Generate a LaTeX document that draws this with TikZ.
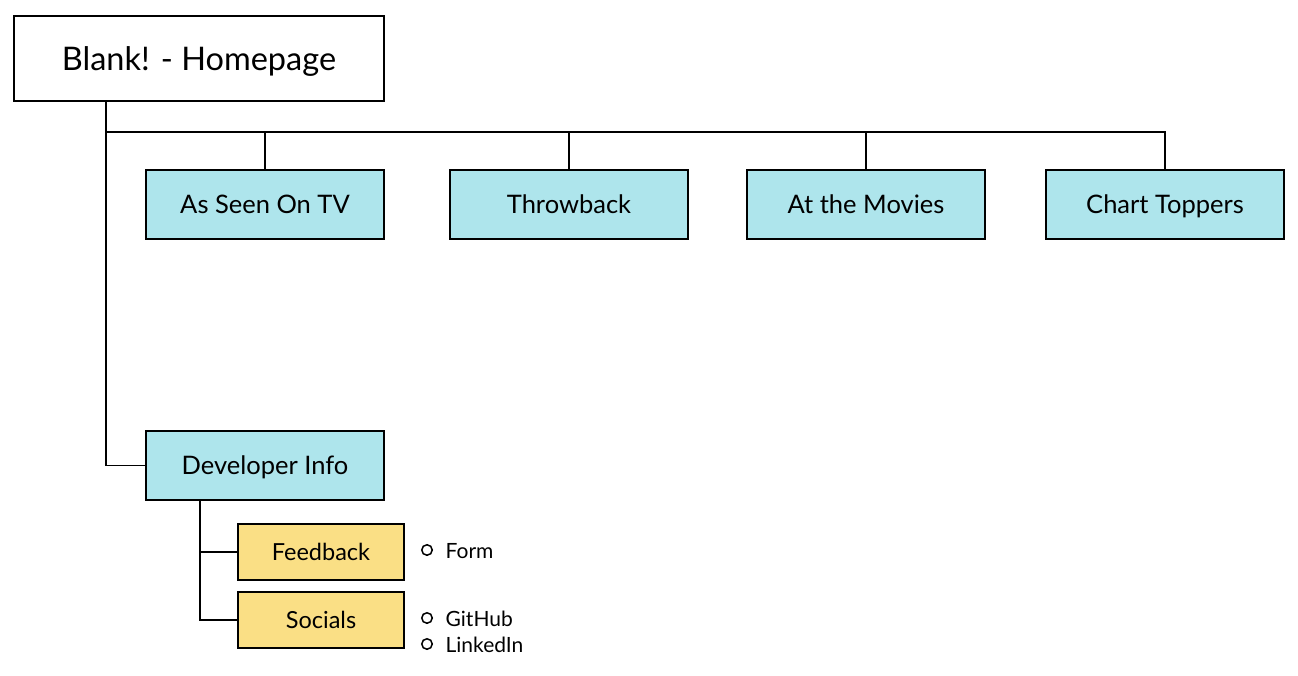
\documentclass[tikz,border=0pt]{standalone}
\usepackage{fontspec}
\setmainfont{Lato}
\definecolor{cyanbox}{HTML}{AEE5EC}
\definecolor{yelbox}{HTML}{FADF85}
\begin{document}
\begin{tikzpicture}[x=1pt,y=-1pt,line width=1.3pt,
  homebox/.style={draw,fill=white,minimum width=370pt,minimum height=85pt,inner sep=0pt,text height=23.4pt,text depth=0pt,font=\fontsize{32.5}{36}\selectfont},
  pagebox/.style={draw,fill=cyanbox,minimum width=238pt,minimum height=69pt,inner sep=0pt,text height=18.4pt,text depth=0pt,font=\fontsize{25.5}{29}\selectfont},
  subbox/.style={draw,fill=yelbox,minimum width=166pt,minimum height=56pt,inner sep=0pt,text height=16.9pt,text depth=0pt,font=\fontsize{23.5}{27}\selectfont},
  bullet/.style={draw,circle,line width=1.5pt,minimum size=10.5pt,inner sep=0pt},
  itemtext/.style={anchor=west,inner sep=0pt,text height=15.1pt,text depth=0pt,font=\fontsize{21}{25}\selectfont}]
\useasboundingbox (0,0) rectangle (1298,676);
\node[homebox] (home) at (199,58.5) {Blank! - Homepage};
\node[pagebox] (tv) at (265,204.5) {As Seen On TV};
\node[pagebox] (throw) at (569,204.5) {Throwback};
\node[pagebox] (movies) at (866,204.5) {At the Movies};
\node[pagebox] (chart) at (1165,204.5) {Chart Toppers};
\node[pagebox] (dev) at (265,465.5) {Developer Info};
\node[subbox] (fb) at (321,552) {Feedback};
\node[subbox] (soc) at (321,620) {Socials};
\node[bullet] (b1) at (427,550) {};
\node[bullet] (b2) at (427,618) {};
\node[bullet] (b3) at (427,644) {};
\node[itemtext] (t1) at (445,550.5) {Form};
\node[itemtext] (t2) at (445,618.5) {GitHub};
\node[itemtext] (t3) at (445,644.5) {LinkedIn};
\coordinate (bus) at (106,132);
\coordinate (dv) at (200,500);
\draw (home.south -| bus) |- (dev.west);
\draw (bus) -| (chart.north);
\draw (bus -| tv.north) -- (tv.north);
\draw (bus -| throw.north) -- (throw.north);
\draw (bus -| movies.north) -- (movies.north);
\draw (dev.south -| dv) |- (soc.west);
\draw (dv |- fb.west) -- (fb.west);
\end{tikzpicture}
\end{document}
